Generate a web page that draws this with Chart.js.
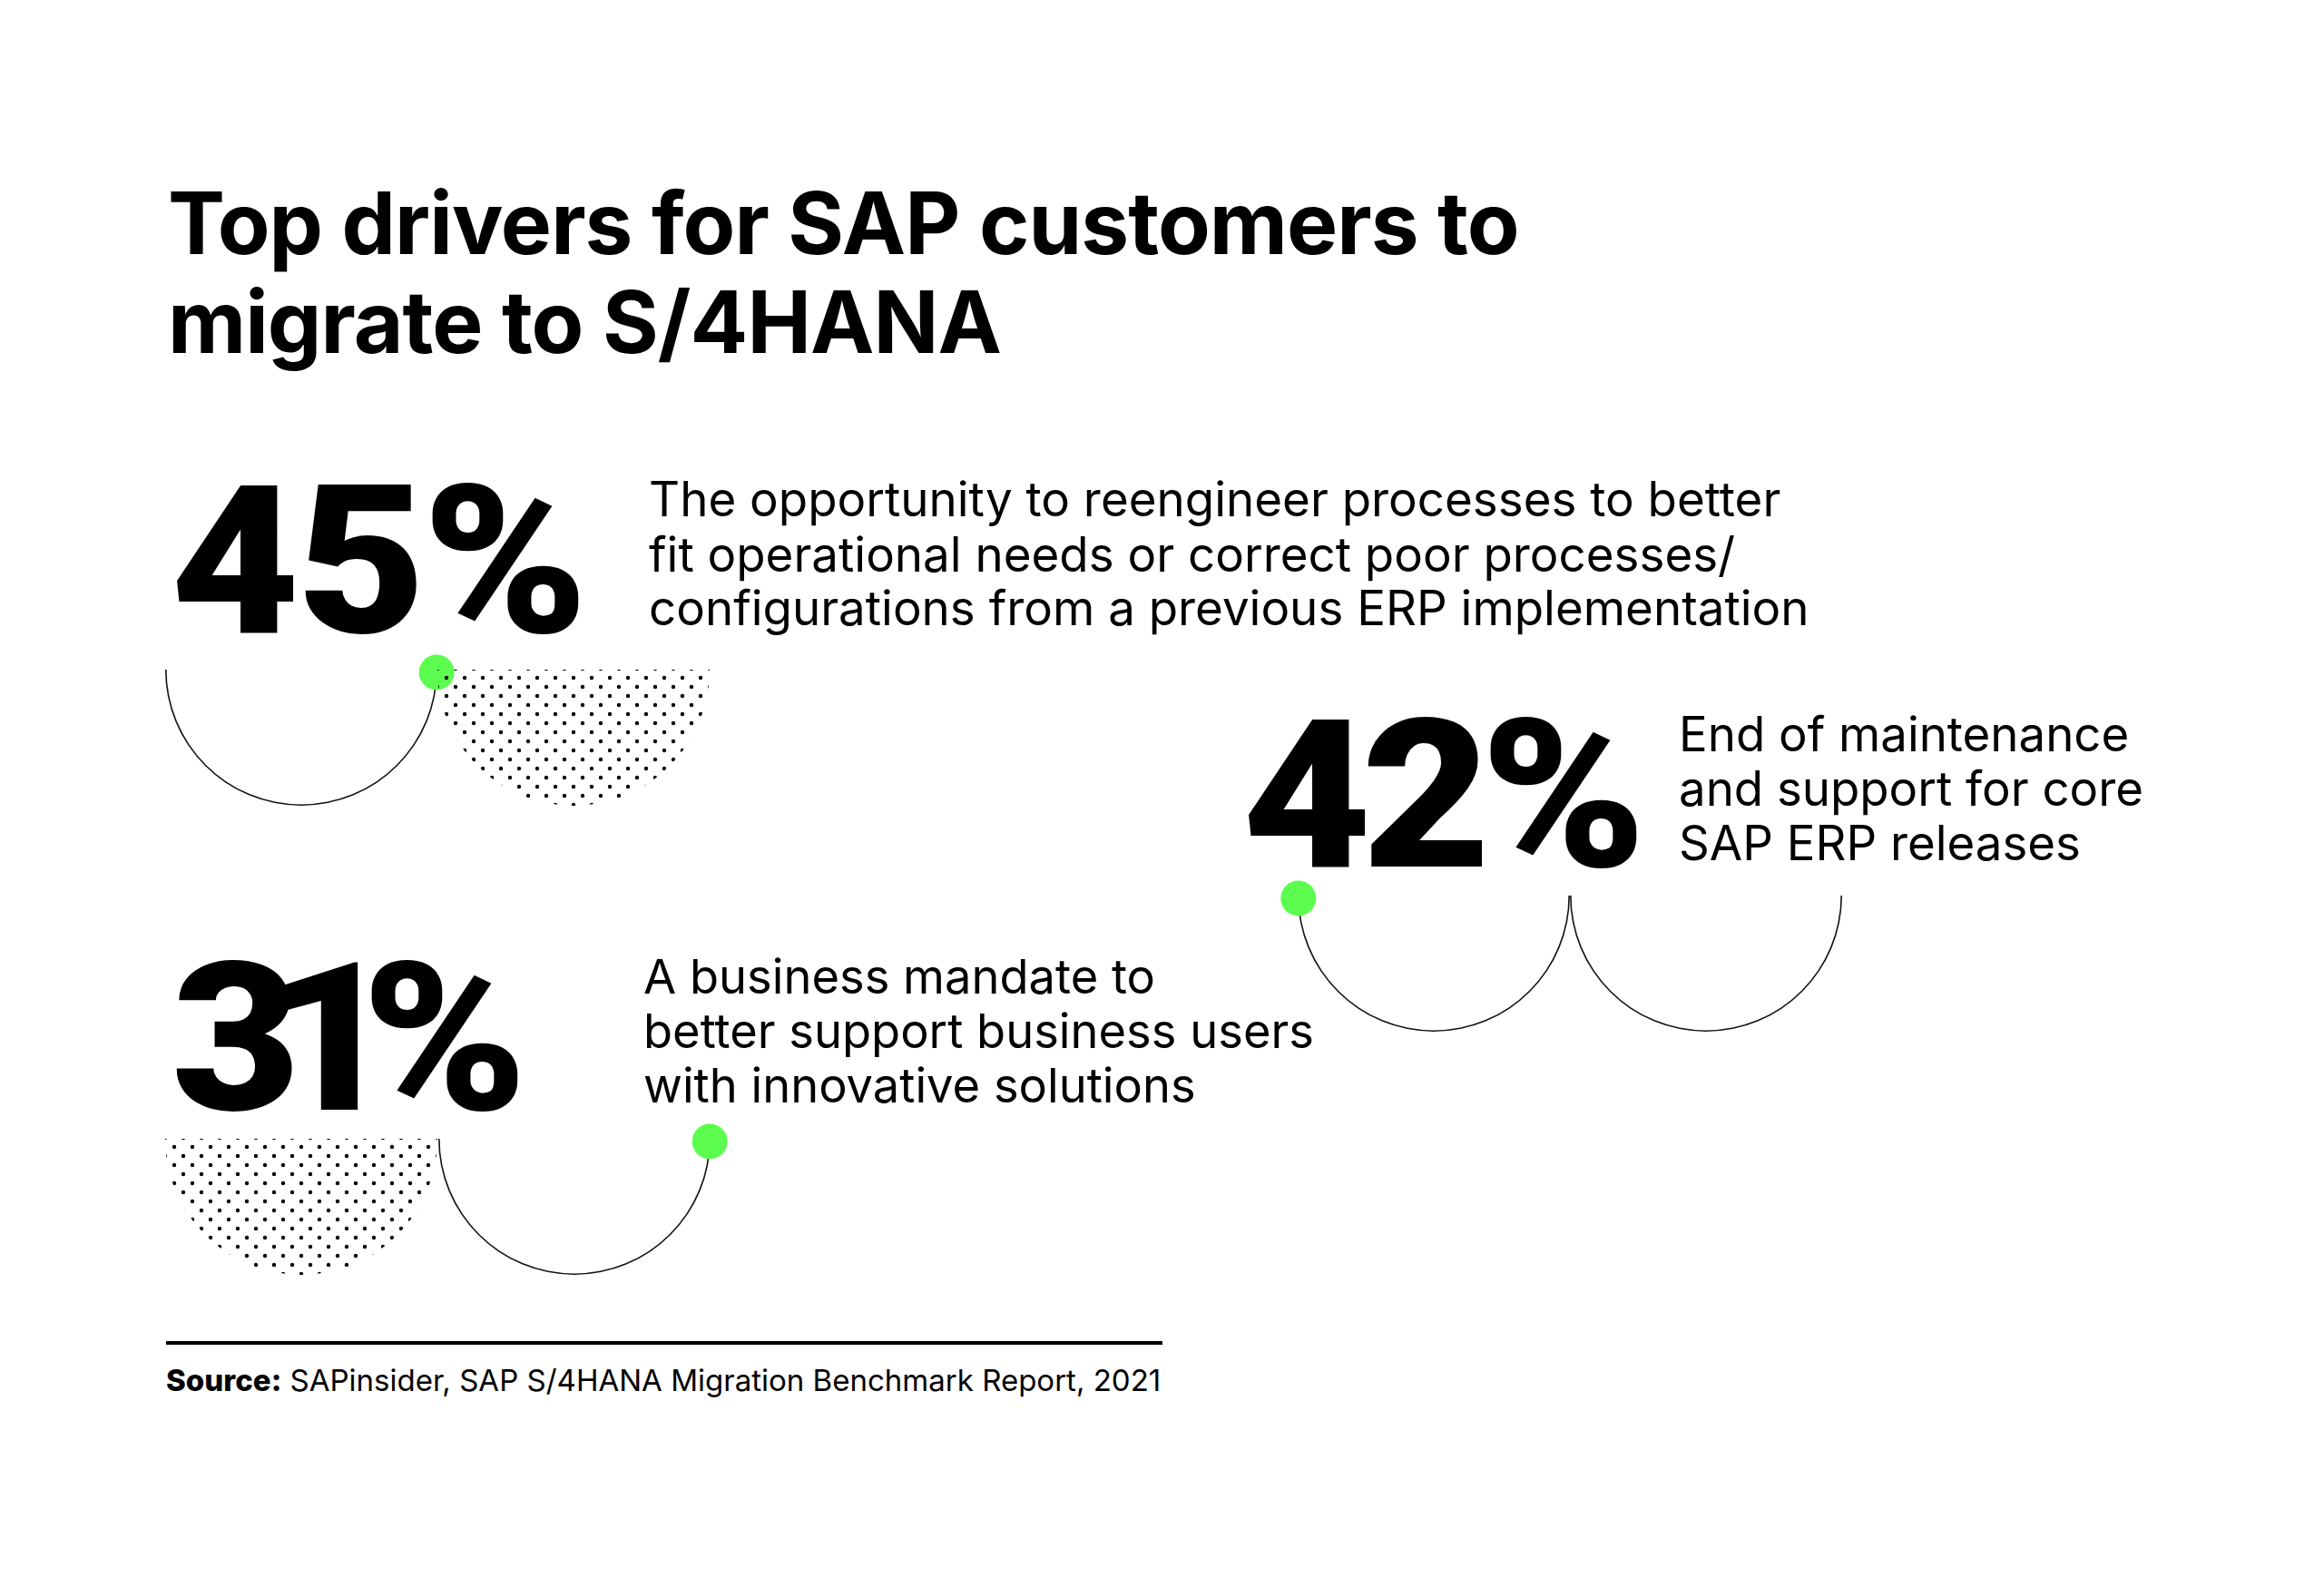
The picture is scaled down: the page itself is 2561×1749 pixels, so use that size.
<!DOCTYPE html>
<html>
<head>
<meta charset="utf-8">
<title>Top drivers for SAP customers to migrate to S/4HANA</title>
<script src="https://cdn.jsdelivr.net/npm/chart.js@4.4.1/dist/chart.umd.min.js"></script>
<style>
  html, body { margin: 0; padding: 0; background: #fff; }
  #page {
    position: relative;
    width: 2561px;
    height: 1749px;
    overflow: hidden;
    background: #fff;
    color: #000;
    font-family: Inter, "Noto Sans", sans-serif;
  }
  .txt { position: absolute; white-space: nowrap; line-height: 1; }
  .title { font-weight: 700; letter-spacing: -0.01em; }
  .big { font-family: Roboto, Inter, sans-serif; font-weight: 900; transform-origin: 0 0; }
  .desc { font-weight: 400; }
  .src { font-weight: 400; }
  .src b { font-weight: 800; }
  .rule { position: absolute; background: #000; }
  canvas.arc { position: absolute; }
</style>
</head>
<body>
<div id="page"></div>
<script>
// Chart data
const titleLines = ["Top drivers for SAP customers to", "migrate to S/4HANA"]
const shares = [45, 42, 31]
const drivers = [
  ["The opportunity to reengineer processes to better", "fit operational needs or correct poor processes/", "configurations from a previous ERP implementation"],
  ["End of maintenance", "and support for core", "SAP ERP releases"],
  ["A business mandate to", "better support business users", "with innovative solutions"],
]
const sourceLabel = "Source:"
const sourceText = "SAPinsider, SAP S/4HANA Migration Benchmark Report, 2021"

// Layout (pixels on the 2561 x 1749 page)
const R = 150
const GREEN = "#5dfd4f"
const CAP = 0.711          // Roboto cap height / em
const bigCap = 163
const bigStretch = 1.07
const titleLayout = { x: 185, base: [280, 389], width: 1489 }
const blockLayout = [
  { num: { x: 188, base: 697, w: 460 }, desc: { x: 715, base: [569, 630, 689], fitLine: 2, w: 1279 },
    arcs: [{ cx: 332, cy: 738, kind: "line", dot: "start" }, { cx: 632, cy: 738, kind: "dots" }] },
  { num: { x: 1369, base: 955, w: 445 }, desc: { x: 1850, base: [828, 888, 948], fitLine: 1, w: 512 },
    arcs: [{ cx: 1580, cy: 987, kind: "line", dot: "end" }, { cx: 1880, cy: 987, kind: "line" }] },
  { num: { x: 189, base: 1223, w: 392 }, desc: { x: 709, base: [1095, 1155, 1215], fitLine: 1, w: 739 },
    arcs: [{ cx: 332, cy: 1255, kind: "dots" }, { cx: 633, cy: 1255, kind: "line", dot: "start" }] },
]
const sourceLayout = { x: 183, base: 1533, width: 1097, ruleY: 1478, ruleW: 1098 }

const page = document.getElementById("page")

function makeText(cls, text) {
  const el = document.createElement("div")
  el.className = "txt " + cls
  el.textContent = text
  page.appendChild(el)
  return el
}

// font size that makes el exactly `width` wide
function fitSize(el, width) {
  el.style.fontSize = "100px"
  const w0 = el.getBoundingClientRect().width
  return 100 * width / w0
}

// put the alphabetic baseline of el at y = base
function place(el, x, base, size) {
  el.style.fontSize = size + "px"
  el.style.left = x + "px"
  el.style.top = "0px"
  const m = document.createElement("span")
  m.style.cssText = "display:inline-block;width:0;height:0;vertical-align:baseline"
  el.appendChild(m)
  el.style.top = (base - m.offsetTop) + "px"
}

// size from cap height, widen a little, then letter-spacing to reach the width
function capFit(el, cap, width) {
  const size = cap / CAP
  el.style.fontSize = size + "px"
  el.style.letterSpacing = "0px"
  el.style.transform = "scaleX(" + bigStretch + ")"
  const w = el.getBoundingClientRect().width
  const n = el.textContent.length
  el.style.letterSpacing = ((width - w) / (n - 1) / bigStretch) + "px"
  return size
}

function dotPattern() {
  const c = document.createElement("canvas")
  c.width = 20
  c.height = 20
  const g = c.getContext("2d")
  g.fillStyle = "#000"
  ;[[6, 5], [16, 15]].forEach(([x, y]) => {
    g.beginPath()
    g.arc(x, y, 2.2, 0, Math.PI * 2)
    g.fill()
  })
  return g.createPattern(c, "repeat")
}

// green marker at one end of the half ring
const endDot = {
  id: "endDot",
  afterDatasetsDraw(chart, args, opts) {
    if (!opts.at) return
    const a = chart.getDatasetMeta(0).data[0]
    const r = (a.outerRadius + a.innerRadius) / 2
    const ang = opts.at === "start" ? a.startAngle : a.endAngle
    const ctx = chart.ctx
    ctx.save()
    ctx.fillStyle = opts.color
    ctx.beginPath()
    ctx.arc(a.x + r * Math.cos(ang), a.y + r * Math.sin(ang) + opts.dy, opts.radius, 0, Math.PI * 2)
    ctx.fill()
    ctx.restore()
  },
}

function halfRing(arc, value, label) {
  const pad = 26
  const canvas = document.createElement("canvas")
  canvas.className = "arc"
  canvas.width = 2 * R + 2 * pad
  canvas.height = R + 2 * pad
  canvas.style.width = canvas.width + "px"
  canvas.style.height = canvas.height + "px"
  canvas.style.left = (arc.cx - R - pad) + "px"
  canvas.style.top = (arc.cy - pad) + "px"
  page.appendChild(canvas)

  const line = arc.kind === "line"
  new Chart(canvas, {
    type: "doughnut",
    data: {
      labels: [label],
      datasets: [{
        data: [value],
        backgroundColor: line ? "#111" : dotPattern(),
        borderWidth: 0,
      }],
    },
    options: {
      responsive: false,
      animation: false,
      events: [],
      rotation: 90,
      circumference: 180,
      cutout: line ? ((R - 1.6) / R * 100) + "%" : 0,
      layout: { padding: pad },
      plugins: {
        legend: { display: false },
        tooltip: { enabled: false },
        endDot: { at: arc.dot, radius: 19.5, color: GREEN, dy: 3 },
      },
    },
    plugins: [endDot],
  })
}

function build() {
  // title
  const t1 = makeText("title", titleLines[0])
  const tSize = fitSize(t1, titleLayout.width)
  place(t1, titleLayout.x, titleLayout.base[0], tSize)
  const t2 = makeText("title", titleLines[1])
  place(t2, titleLayout.x, titleLayout.base[1], tSize)

  // blocks
  shares.forEach((v, i) => {
    const L = blockLayout[i]
    const n = makeText("big", v + "%")
    place(n, L.num.x, L.num.base, capFit(n, bigCap, L.num.w))

    const lines = drivers[i].map(s => makeText("desc", s))
    const dSize = fitSize(lines[L.desc.fitLine], L.desc.w)
    lines.forEach((el, j) => place(el, L.desc.x, L.desc.base[j], dSize))

    L.arcs.forEach(a => halfRing(a, v, drivers[i].join(" ")))
  })

  // source
  const rule = document.createElement("div")
  rule.className = "rule"
  rule.style.left = sourceLayout.x + "px"
  rule.style.top = sourceLayout.ruleY + "px"
  rule.style.width = sourceLayout.ruleW + "px"
  rule.style.height = "4px"
  page.appendChild(rule)

  const s = document.createElement("div")
  s.className = "txt src"
  const b = document.createElement("b")
  b.textContent = sourceLabel
  s.appendChild(b)
  s.appendChild(document.createTextNode(" " + sourceText))
  page.appendChild(s)
  place(s, sourceLayout.x, sourceLayout.base, fitSize(s, sourceLayout.width))
}

document.fonts.ready.then(build)
</script>
</body>
</html>
